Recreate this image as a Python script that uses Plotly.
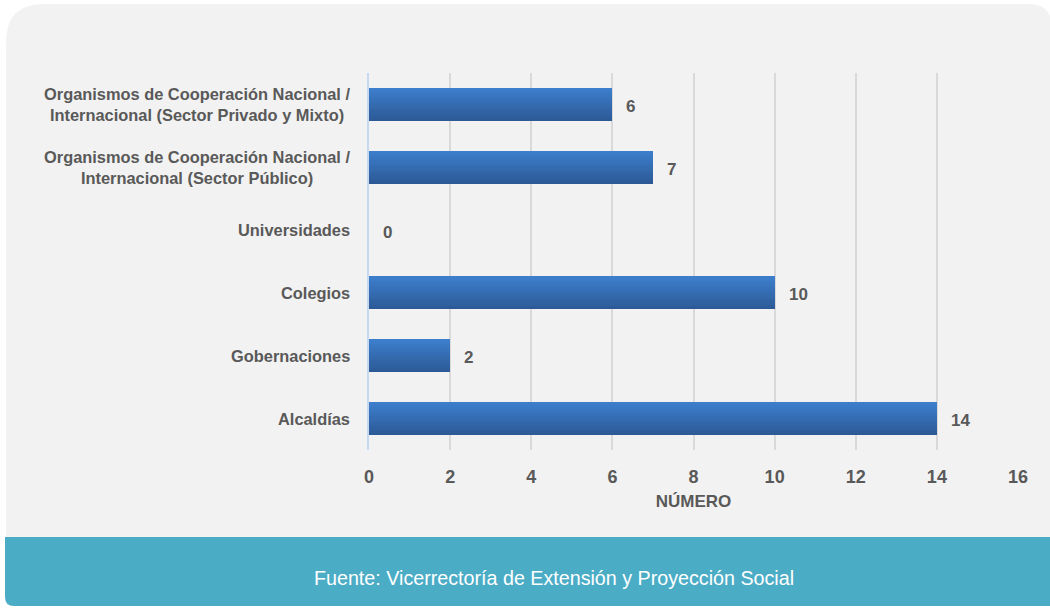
import plotly.graph_objects as go

categories = [
    "Alcaldías",
    "Gobernaciones",
    "Colegios",
    "Universidades",
    "Organismos de Cooperación Nacional /<br>Internacional (Sector Público)",
    "Organismos de Cooperación Nacional /<br>Internacional (Sector Privado y Mixto)",
]
values = [14, 2, 10, 0, 7, 6]
x_ticks = [0, 2, 4, 6, 8, 10, 12, 14, 16]
source_text = "Fuente: Vicerrectoría de Extensión y Proyección Social"
axis_title = "NÚMERO"

W, H = 1050, 609
L, R, T, B = 369, 1018, 73, 450
FONT = "Liberation Sans Narrow, Arial Narrow, Liberation Sans, Arial"
GRAY = "#595959"


def px(x):
    return (x - L) / (R - L)


def py(y):
    return (B - y) / (B - T)


def rounded_path(x0, y0, x1, y1, rtl, rtr, rbr, rbl):
    pts = []
    pts.append(f"M {px(x0 + rtl)},{py(y0)}")
    pts.append(f"L {px(x1 - rtr)},{py(y0)}")
    pts.append(f"Q {px(x1)},{py(y0)} {px(x1)},{py(y0 + rtr)}")
    pts.append(f"L {px(x1)},{py(y1 - rbr)}")
    pts.append(f"Q {px(x1)},{py(y1)} {px(x1 - rbr)},{py(y1)}")
    pts.append(f"L {px(x0 + rbl)},{py(y1)}")
    pts.append(f"Q {px(x0)},{py(y1)} {px(x0)},{py(y1 - rbl)}")
    pts.append(f"L {px(x0)},{py(y0 + rtl)}")
    pts.append(f"Q {px(x0)},{py(y0)} {px(x0 + rtl)},{py(y0)}")
    pts.append("Z")
    return " ".join(pts)


fig = go.Figure()

# gradient bars: stacked strips
N = 14
bw = 0.525
top_c = (0x3c, 0x7e, 0xcc)
bot_c = (0x2d, 0x5a, 0x97)
for i in range(N):
    t = i / (N - 1)
    c = tuple(round(bot_c[k] + (top_c[k] - bot_c[k]) * t) for k in range(3))
    fig.add_trace(go.Bar(
        x=values, y=categories, orientation="h",
        width=bw / N + 0.004, offset=-bw / 2 + i * bw / N,
        marker=dict(color="rgb(%d,%d,%d)" % c, line=dict(width=0)),
        hoverinfo="skip", showlegend=False,
    ))

shapes = [
    dict(type="path", xref="paper", yref="paper", layer="below",
         path=rounded_path(6, 4, 1052, 545, 38, 24, 0, 0),
         fillcolor="#f2f2f2", line=dict(width=0)),
    dict(type="path", xref="paper", yref="paper", layer="below",
         path=rounded_path(5, 537, 1060, 606, 0, 0, 0, 9),
         fillcolor="#4bacc6", line=dict(width=0)),
]

annotations = []
for c, v in zip(categories, values):
    annotations.append(dict(
        x=v, y=c, xref="x", yref="y", text=str(v), showarrow=False,
        xanchor="left", xshift=12, yshift=-2,
        font=dict(family=FONT, size=17, color=GRAY, weight="bold"),
    ))
    annotations.append(dict(
        x=px(352), y=c, xref="paper", yref="y", text=c, showarrow=False,
        xanchor="right", align="center",
        font=dict(family=FONT, size=16.4, color=GRAY, weight="bold"),
    ))
annotations.append(dict(
    x=px(554), y=py(578), xref="paper", yref="paper", text=source_text,
    showarrow=False, xanchor="center", yanchor="middle",
    font=dict(family=FONT, size=19.7, color="white"),
))

fig.update_layout(
    width=W, height=H,
    margin=dict(l=L, r=W - R, t=T, b=H - B),
    paper_bgcolor="white", plot_bgcolor="rgba(0,0,0,0)",
    barmode="overlay", bargap=0,
    shapes=shapes, annotations=annotations,
    xaxis=dict(
        range=[0, 16], tickvals=x_ticks, showgrid=True,
        gridcolor="#d9d9d9", gridwidth=1.5, zeroline=False,
        showline=False, ticks="", ticklabelstandoff=14,
        tickfont=dict(family=FONT, size=18, color=GRAY, weight="bold"),
        title=dict(text=axis_title, standoff=9,
                   font=dict(family=FONT, size=17, color=GRAY, weight="bold")),
    ),
    yaxis=dict(
        showticklabels=False, showgrid=False, zeroline=False,
        showline=True, linecolor="#c6d9f1", linewidth=1.5,
        categoryorder="array", categoryarray=categories,
    ),
)

fig.write_html(
    "out.html",
    config={"displayModeBar": False},
    post_script="document.body.style.margin='0';document.body.style.overflow='hidden';",
)
